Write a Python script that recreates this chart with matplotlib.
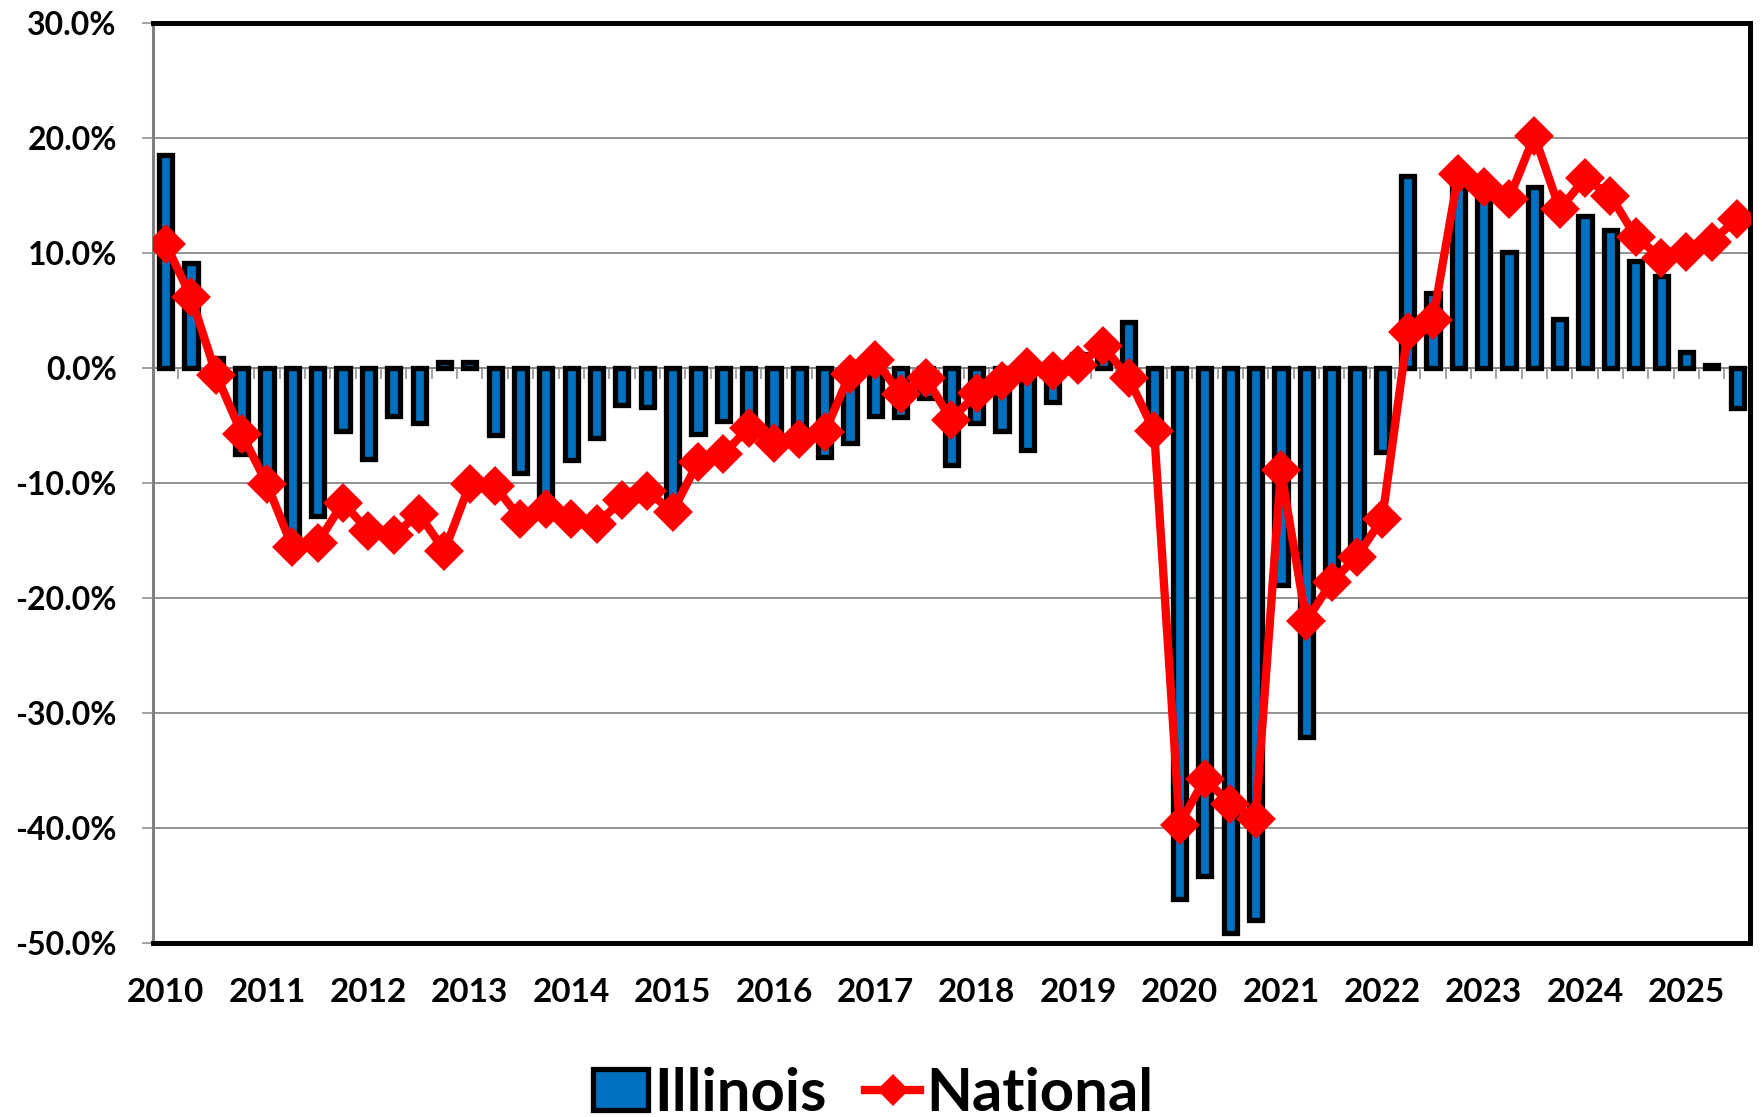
import numpy as np
import matplotlib
matplotlib.use("Agg")
import matplotlib.pyplot as plt
from matplotlib.ticker import FuncFormatter

plt.rcParams['font.family'] = ['Lato', 'DejaVu Sans']
plt.rcParams['font.weight'] = 'bold'

# ---- data (percent change, quarterly 2010 Q1 .. 2025 Q3) ----
years = ["2010", "2011", "2012", "2013", "2014", "2015", "2016", "2017",
         "2018", "2019", "2020", "2021", "2022", "2023", "2024", "2025"]

illinois = [18.5, 9.1, 0.9, -7.5,
            -10.0, -15.0, -12.9, -5.5,
            -7.9, -4.2, -4.8, 0.5,
            0.5, -5.8, -9.1, -11.5,
            -8.0, -6.1, -3.2, -3.4,
            -11.5, -5.7, -4.6, -5.5,
            -6.3, -6.5, -7.7, -6.5,
            -4.2, -4.3, -2.6, -8.4,
            -4.8, -5.5, -7.1, -3.0,
            1.2, 2.2, 4.0, -5.0,
            -46.2, -44.2, -49.1, -48.0,
            -18.9, -32.1, -19.0, -16.0,
            -7.3, 16.7, 6.5, 16.5,
            15.0, 10.1, 15.7, 4.3,
            13.2, 12.0, 9.3, 8.0,
            1.4, 0.3, -3.5]

national = [10.8, 6.2, -0.6, -5.7,
            -10.1, -15.6, -15.2, -11.7,
            -14.2, -14.5, -12.7, -15.9,
            -10.1, -10.3, -13.1, -12.3,
            -13.1, -13.6, -11.5, -10.7,
            -12.5, -8.2, -7.5, -5.2,
            -6.5, -6.2, -5.6, -0.5,
            0.7, -2.3, -0.9, -4.5,
            -2.2, -1.1, 0.1, -0.3,
            0.3, 1.9, -0.9, -5.5,
            -39.7, -35.7, -37.9, -39.2,
            -8.9, -22.0, -18.6, -16.4,
            -13.1, 3.1, 4.2, 16.9,
            15.7, 14.7, 20.2, 13.8,
            16.5, 15.0, 11.4, 9.6,
            10.1, 11.0, 13.0]

BLUE = '#0070C0'
RED = '#FF0000'
GRID = '#898989'

fig = plt.figure(figsize=(17.62, 11.17), dpi=100)
ax = fig.add_axes([0.0868, 0.1558, 0.9063, 0.8236])

x = np.arange(len(illinois))
bars = ax.bar(x, illinois, width=0.52, color=BLUE, edgecolor='black',
              linewidth=3.8, zorder=2, label='Illinois')
line, = ax.plot(x, national, color=RED, lw=6.0, marker='D', ms=17,
                mfc=RED, mec=RED, mew=3, solid_joinstyle='round',
                zorder=3, label='National')

ax.set_xlim(-0.5, len(illinois) - 0.5)
ax.set_ylim(-50, 30)
ax.set_yticks(np.arange(-50, 31, 10))
ax.yaxis.set_major_formatter(FuncFormatter(lambda v, p: f"{v:.1f}%"))
ax.grid(axis='y', color=GRID, lw=1.3, zorder=0)
ax.set_axisbelow(True)

ax.set_xticks(np.arange(0, len(illinois), 4))
ax.set_xticklabels(years)
ax.tick_params(axis='x', length=0, pad=25, labelsize=24)
ax.tick_params(axis='y', direction='out', length=8, width=1.1,
               color=GRID, pad=18, labelsize=23)

for s in ['top', 'right', 'bottom']:
    ax.spines[s].set_color('black')
    ax.spines[s].set_linewidth(3.6)
ax.spines['left'].set_color('#7f7f7f')
ax.spines['left'].set_linewidth(2.2)

# category axis crossing at zero with quarter-boundary tick marks
zero_pos = (0 - ax.get_ylim()[0]) / (ax.get_ylim()[1] - ax.get_ylim()[0])
sec = ax.secondary_xaxis(zero_pos)
sec.set_alignment('bottom')
sec.set_xticks(np.arange(-0.5, len(illinois), 1.0))
sec.tick_params(axis='x', direction='out', length=8, width=1.1,
                color=GRID, labelbottom=False, labeltop=False)
for s in sec.spines.values():
    s.set_color(GRID)
    s.set_linewidth(1.3)

leg = fig.legend([bars, line], ['Illinois', 'National'], loc='center', ncol=2,
                 bbox_to_anchor=(0.4955, 0.021), frameon=False,
                 fontsize=43, handlelength=0.92, handleheight=0.66,
                 handletextpad=0.1, columnspacing=0.65, markerscale=0.8)

fig.savefig('out.png', dpi=100)
